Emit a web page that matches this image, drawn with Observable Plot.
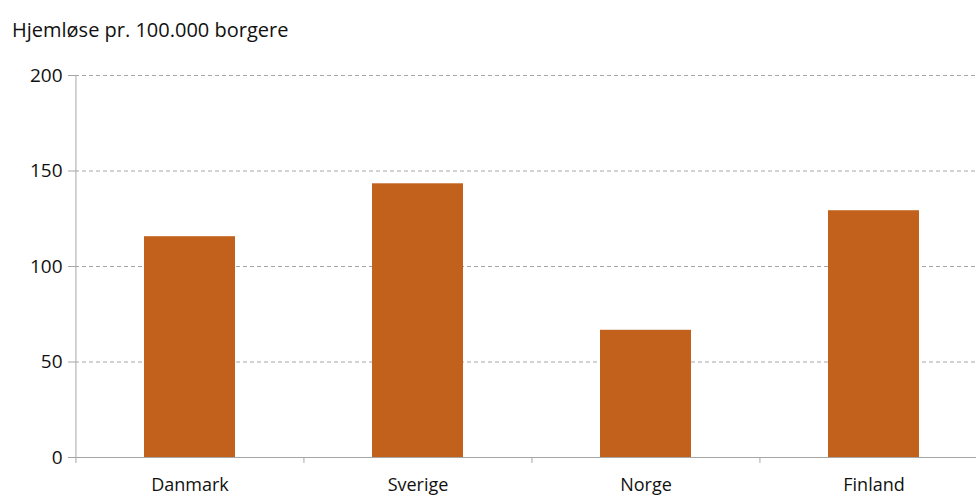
<!DOCTYPE html>
<html>
<head>
<meta charset="utf-8">
<script src="https://cdn.jsdelivr.net/npm/d3@7"></script>
<script src="https://cdn.jsdelivr.net/npm/@observablehq/plot@0.6"></script>
<style>
  body { margin: 0; background: #fff; font-family: "Open Sans", sans-serif; }
  #title { height: 52px; box-sizing: border-box; padding: 18px 0 0 12px; font-size: 20px; color: #111; line-height: 23px; white-space: nowrap; }
  #chart svg { overflow: visible; }
</style>
</head>
<body>
<div id="title">Hjemløse pr. 100.000 borgere</div>
<div id="chart"></div>
<script>
const categories = ["Danmark", "Sverige", "Norge", "Finland"];
const values = [115.6, 143.3, 66.6, 129.2];
const yTicks = [0, 50, 100, 150, 200];
const gridTicks = [50, 100, 150, 200];

const data = categories.map((c, i) => ({country: c, value: values[i]}));
const xRange = [75, 987.5];
const step = (xRange[1] - xRange[0]) / categories.length;
const axisColor = "#a6a6a6";

const plot = Plot.plot({
  width: 976,
  height: 445,
  marginLeft: 75,
  marginRight: 0,
  marginTop: 23,
  marginBottom: 40,
  style: {fontFamily: "'Open Sans', sans-serif", fontSize: "19px", color: "#111", background: "#fff"},
  x: {domain: categories, range: xRange, paddingInner: 0.6, paddingOuter: 0.3, label: null},
  y: {domain: [0, 200], label: null},
  marks: [
    Plot.ruleY(gridTicks, {y: d => d, stroke: axisColor, strokeWidth: 1, strokeDasharray: "4,3"}),
    Plot.barY(data, {x: "country", y: "value", fill: "#C2611C"}),
    Plot.ruleY([0], {stroke: axisColor, strokeWidth: 1}),
    Plot.ruleX(categories, {x: d => d, y1: 0, y2: -3.1, dx: -step / 2, stroke: axisColor}),
    Plot.ruleX([categories[0]], {x: d => d, y1: 0, y2: 200, dx: -step / 2, stroke: axisColor}),
    Plot.axisY({ticks: yTicks, tickSize: 7, tickPadding: 6, stroke: axisColor, fontSize: 19, tickFormat: d => d}),
    Plot.axisX({tickSize: 0, tickPadding: 21, fontSize: 18})
  ]
});
document.getElementById("chart").appendChild(plot);
</script>
</body>
</html>
